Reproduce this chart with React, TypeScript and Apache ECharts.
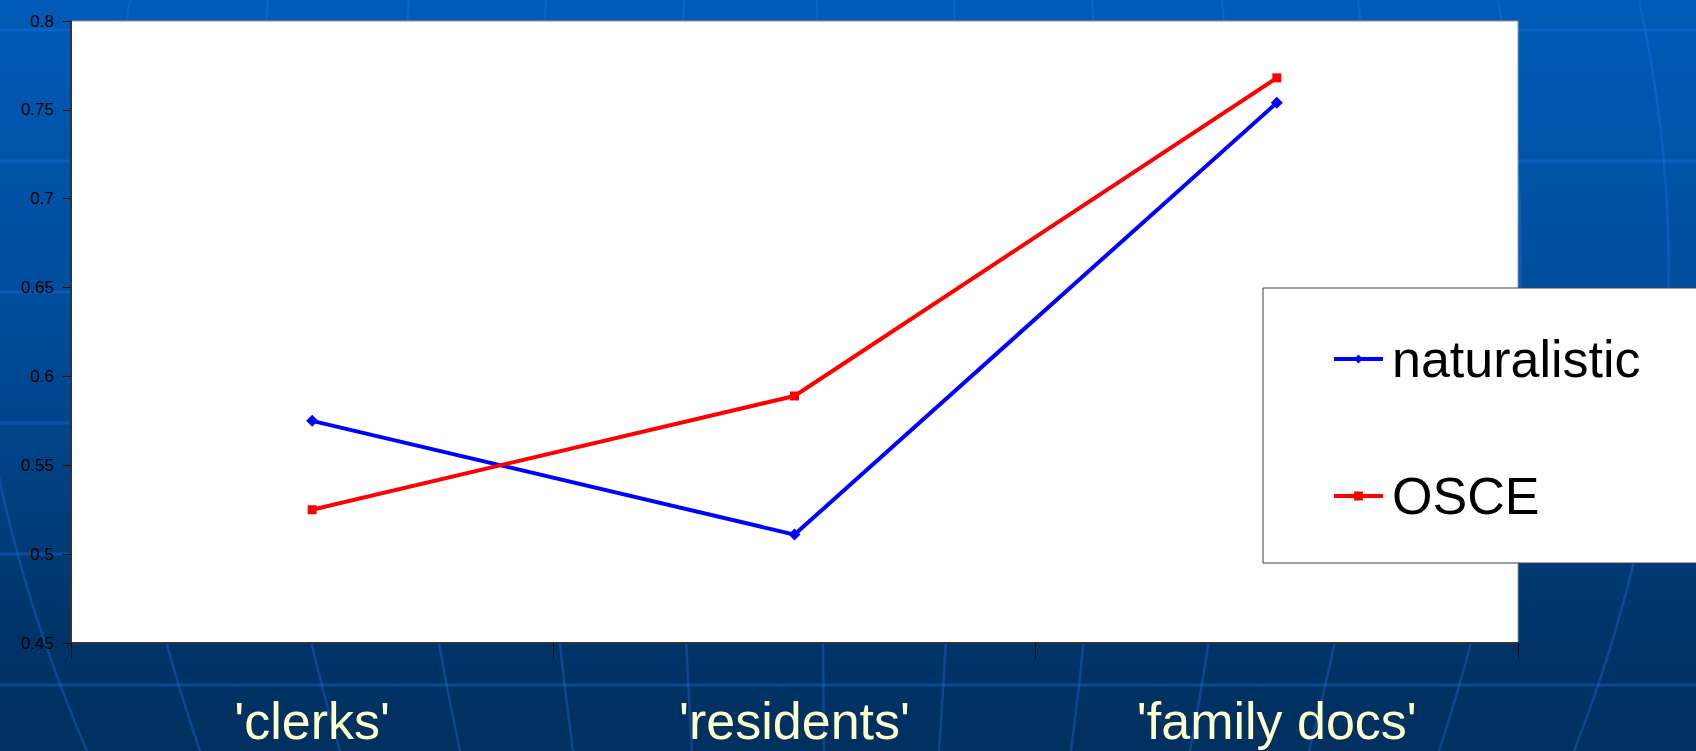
import React, { useEffect, useRef } from "react";
import * as echarts from "echarts";

// ---- data ----
const categories = ["'clerks'", "'residents'", "'family docs'"];
const naturalistic = [0.575, 0.511, 0.754];
const osce = [0.525, 0.589, 0.768];
const seriesNames = ["naturalistic", "OSCE"];

// ---- decorative background (globe-like grid) ----
const hLinesY = [30, 161, 292, 423, 554, 685];
const meridianTopX = [-10, 130, 268, 409, 546, 684, 817, 954, 1092, 1222, 1358, 1498, 1639];
const meridianBottomX = [87, 200, 340, 460, 573, 692, 824, 939, 1071, 1190, 1309, 1439, 1574];

const W = 1696;
const H = 751;

export default function App() {
  const ref = useRef<HTMLDivElement>(null);

  useEffect(() => {
    document.body.style.margin = "0";
    if (!ref.current) return;
    const chart = echarts.init(ref.current, undefined, { renderer: "svg" });

    const lineColor = "rgba(30,120,240,0.32)";
    const bg: any[] = [];
    hLinesY.forEach((y) => {
      bg.push({
        type: "line",
        z: -10,
        silent: true,
        shape: { x1: 0, y1: y, x2: W, y2: y },
        style: { stroke: lineColor, lineWidth: 3 },
      });
    });
    const center = 817;
    meridianTopX.forEach((xt, i) => {
      const xb = meridianBottomX[i];
      const mid = (xt + xb) / 2;
      const bulge = (mid - center) * 0.073;
      bg.push({
        type: "bezierCurve",
        z: -10,
        silent: true,
        shape: {
          x1: xt,
          y1: 0,
          x2: xb,
          y2: H,
          cpx1: mid + 2 * bulge,
          cpy1: H / 2,
        },
        style: { stroke: lineColor, lineWidth: 2.5, fill: "none" },
      });
    });
    // legend box
    bg.push({
      type: "rect",
      z: 10,
      silent: true,
      shape: { x: 1263, y: 288, width: 480, height: 275 },
      style: { fill: "#ffffff", stroke: "#404040", lineWidth: 1 },
    });

    const font = "'Liberation Sans', Arial, sans-serif";

    chart.setOption({
      animation: false,
      backgroundColor: new echarts.graphic.LinearGradient(0, 0, 0, 1, [
        { offset: 0, color: "#005BB8" },
        { offset: 0.45, color: "#004B98" },
        { offset: 0.85, color: "#003468" },
        { offset: 1, color: "#00305F" },
      ]),
      graphic: bg,
      grid: {
        left: 71,
        top: 21,
        right: W - 1518,
        bottom: 108,
        show: true,
        backgroundColor: "#ffffff",
        borderColor: "#999999",
        borderWidth: 1,
      },
      legend: {
        orient: "vertical",
        left: 1332,
        top: 333,
        z: 20,
        padding: 0,
        itemGap: 85,
        itemWidth: 49,
        itemHeight: 11,
        data: seriesNames,
        lineStyle: { width: 4 },
        textStyle: {
          fontFamily: font,
          fontSize: 52,
          color: "#000000",
          padding: [0, 0, 0, 4],
        },
      },
      xAxis: {
        type: "category",
        data: categories,
        boundaryGap: true,
        axisLine: { show: true, lineStyle: { color: "#333333", width: 2 } },
        axisTick: { show: true, length: 16, lineStyle: { color: "#111111", width: 1 } },
        axisLabel: {
          color: "#FFFFCC",
          fontFamily: font,
          fontSize: 52,
          margin: 52,
        },
        splitLine: { show: false },
      },
      yAxis: {
        type: "value",
        min: 0.45,
        max: 0.8,
        interval: 0.05,
        axisLine: { show: true, lineStyle: { color: "#333333", width: 2 } },
        axisTick: { show: true, length: 8, lineStyle: { color: "#111111", width: 1 } },
        axisLabel: {
          color: "#000000",
          fontFamily: font,
          fontSize: 17,
          margin: 17,
        },
        splitLine: { show: false },
      },
      series: [
        {
          name: seriesNames[0],
          type: "line",
          data: naturalistic,
          symbol: "diamond",
          symbolSize: 12,
          showAllSymbol: true,
          itemStyle: { color: "#0000FF" },
          lineStyle: { color: "#0000FF", width: 4 },
        },
        {
          name: seriesNames[1],
          type: "line",
          data: osce,
          symbol: "rect",
          symbolSize: 9,
          showAllSymbol: true,
          itemStyle: { color: "#FF0000" },
          lineStyle: { color: "#FF0000", width: 4 },
        },
      ],
    });

    return () => {
      chart.dispose();
    };
  }, []);

  return (
    <div
      ref={ref}
      style={{ position: "absolute", left: 0, top: 0, width: W, height: H }}
    />
  );
}
